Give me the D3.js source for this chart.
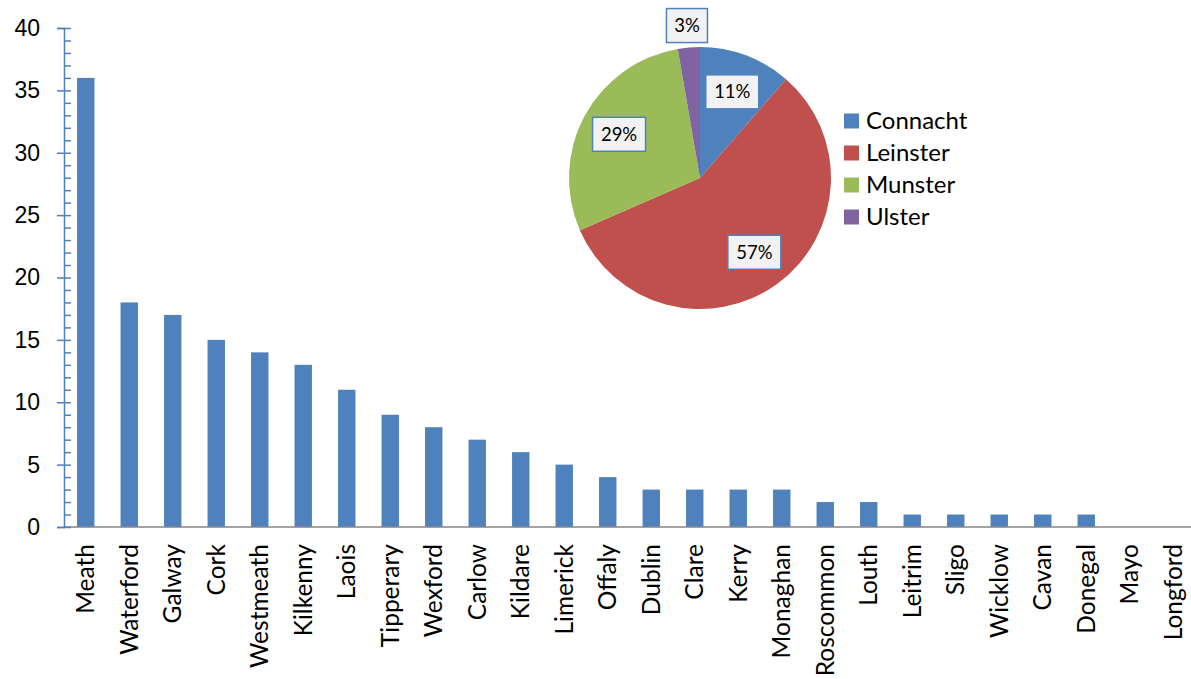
<!DOCTYPE html>
<html>
<head>
<meta charset="utf-8">
<script src="https://cdn.jsdelivr.net/npm/d3@7"></script>
<style>
  body { margin: 0; background: #fff; }
  svg { display: block; font-family: Lato, "Open Sans", sans-serif; }
</style>
</head>
<body>
<div id="chart"></div>
<script>
// données
const counties = ["Meath","Waterford","Galway","Cork","Westmeath","Kilkenny","Laois","Tipperary",
  "Wexford","Carlow","Kildare","Limerick","Offaly","Dublin","Clare","Kerry","Monaghan","Roscommon",
  "Louth","Leitrim","Sligo","Wicklow","Cavan","Donegal","Mayo","Longford"];
const counts = [36,18,17,15,14,13,11,9,8,7,6,5,4,3,3,3,3,2,2,1,1,1,1,1,0,0];
const yTicks = [0,5,10,15,20,25,30,35,40];

const provinces = ["Connacht","Leinster","Munster","Ulster"];
const provinceTotals = [21,105,53,5];
const provinceColors = ["#4F81BD","#C0504D","#9BBB59","#8064A2"];

const W = 1191, H = 679;
const blue = "#4F81BD";

const svg = d3.select("#chart").append("svg")
  .attr("width", W).attr("height", H);

// échelles
const x = d3.scaleBand()
  .domain(counties)
  .range([64, 1195])
  .paddingInner(0.6)
  .paddingOuter(0.3);

const y = d3.scaleLinear()
  .domain([0, 40])
  .range([527, 28]);

// barres
svg.append("g").selectAll("rect")
  .data(counts)
  .join("rect")
    .attr("x", (d, i) => x(counties[i]))
    .attr("y", d => y(d))
    .attr("width", x.bandwidth())
    .attr("height", d => y(0) - y(d))
    .attr("fill", blue);

// axe x (ligne grise + libellés tournés)
svg.append("line")
  .attr("x1", x.range()[0]).attr("x2", W)
  .attr("y1", y(0)).attr("y2", y(0))
  .attr("stroke", "#868686").attr("stroke-width", 1.5);

svg.append("g").selectAll("text")
  .data(counties)
  .join("text")
    .attr("transform", d => `translate(${x(d) + x.bandwidth() / 2},${y(0) + 17}) rotate(-90)`)
    .attr("text-anchor", "end")
    .attr("dy", "0.35em")
    .style("font-size", "24.5px")
    .attr("fill", "#000")
    .text(d => d);

// axe y : graduations majeures (des deux côtés) + mineures (dedans)
const yAxis = svg.append("g")
  .attr("transform", "translate(64,0)")
  .call(d3.axisLeft(y).tickValues(yTicks).tickSize(7).tickPadding(17));
yAxis.select(".domain").attr("stroke", blue).attr("stroke-width", 1.5);
yAxis.selectAll(".tick line").attr("stroke", blue).attr("stroke-width", 1.5);
yAxis.selectAll(".tick text").style("font-size", "23px").attr("fill", "#000");

const yMinor = svg.append("g")
  .attr("transform", "translate(64,0)")
  .call(d3.axisRight(y).ticks(40).tickSize(7).tickFormat(""));
yMinor.select(".domain").remove();
yMinor.selectAll(".tick line").attr("stroke", blue).attr("stroke-width", 1.5);

// camembert par province
const cx = 700, cy = 178, R = 131;
const total = d3.sum(provinceTotals);
const pie = d3.pie().sort(null)(provinceTotals);
const arc = d3.arc().innerRadius(0).outerRadius(R);

const pieG = svg.append("g").attr("transform", `translate(${cx},${cy})`);
pieG.selectAll("path")
  .data(pie)
  .join("path")
    .attr("d", arc)
    .attr("fill", (d, i) => provinceColors[i]);

const labelArc = d3.arc().innerRadius(92).outerRadius(92);
const outArc = d3.arc().innerRadius(153).outerRadius(153);

const lab = pieG.selectAll("g.lab")
  .data(pie)
  .join("g")
    .attr("class", "lab")
    .attr("transform", d => {
      const frac = d.value / total;
      const c = (frac < 0.05 ? outArc : labelArc).centroid(d);
      return `translate(${c[0]},${c[1]})`;
    });
lab.append("rect")
  .attr("x", d => (d.value / total < 0.05 ? -20.5 : -26.5))
  .attr("y", -17)
  .attr("width", d => (d.value / total < 0.05 ? 41 : 53))
  .attr("height", 34)
  .attr("fill", "#F2F2F2")
  .attr("stroke", blue)
  .attr("stroke-width", 1.5);
lab.append("text")
  .attr("text-anchor", "middle")
  .attr("dy", "0.35em")
  .style("font-size", "18.5px")
  .attr("fill", "#000")
  .text(d => Math.round(d.value / total * 100) + "%");

// légende
const leg = svg.append("g").attr("transform", "translate(844,121)");
const items = leg.selectAll("g")
  .data(provinces)
  .join("g")
    .attr("transform", (d, i) => `translate(0,${i * 32})`);
items.append("rect")
  .attr("x", 0).attr("y", -7.5)
  .attr("width", 15).attr("height", 15)
  .attr("fill", (d, i) => provinceColors[i]);
items.append("text")
  .attr("x", 22)
  .attr("dy", "0.35em")
  .style("font-size", "24px")
  .attr("fill", "#000")
  .text(d => d);
</script>
</body>
</html>
